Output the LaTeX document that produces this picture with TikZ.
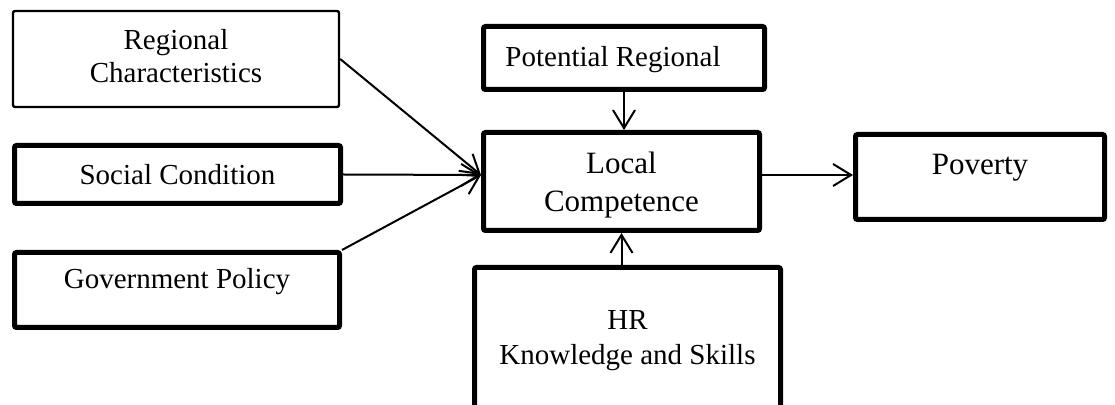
\documentclass[tikz,border=0pt]{standalone}
\usepackage{fontspec}
\setmainfont{Liberation Serif}
\usetikzlibrary{arrows.meta,calc}
\tikzset{
  box/.style={draw,line width=2.5pt,rounded corners=1pt,align=center,inner sep=0pt,
    text height=10pt,font=\fontsize{14.5}{16.5}\selectfont},
  thinbox/.style={box,line width=1.2pt},
  bigbox/.style={box,text height=11pt,font=\fontsize{15.5}{19}\selectfont},
  link/.style={line width=1pt,-{Straight Barb[length=9pt,width=11pt]}}
}

\begin{document}
\begin{tikzpicture}[x=0.5pt,y=-0.5pt]
                \useasboundingbox (0,0) rectangle (1115,405);
                \clip (0,0) rectangle (1115,405);
                \node[thinbox,minimum width=163pt,minimum height=48pt,text height=26.5pt,text depth=2.5pt](reg)at(176,59){Regional\\Characteristics};
                \node[box,minimum width=163pt,minimum height=29pt,text depth=0pt](soc)at(177.5,174.5){Social Condition};
                \node[box,minimum width=162.5pt,minimum height=37.5pt,text depth=11pt](gov)at(177,290){Government Policy};
                \node[box,minimum width=140.5pt,minimum height=31.5pt,text depth=1pt](pot)at(624,58){Potential Regional\hspace*{11pt}};
                \node[bigbox,minimum width=138pt,minimum height=49pt,text height=30pt,text depth=0pt](loc)at(621.5,181.5){Local\\Competence};
                \node[bigbox,minimum width=124.5pt,minimum height=42.5pt,text depth=13pt](pov)at(980,177){Poverty};
                \node[box,minimum width=153pt,minimum height=73pt,text height=27.5pt,text depth=3pt,
                  font=\fontsize{14.5}{17.5}\selectfont](hr)at(627.5,340.5){HR\\Knowledge and Skills};
                \coordinate(hub)at($(loc.west)+(0,-6.5)$);
                \coordinate(out)at($(loc.east)+(0,-6.5)$);
                \draw[link](reg.east)--(hub);
                \draw[link](soc.east)--(hub);
                \draw[link](gov.north east)--(hub);
                \draw[link](pot.south)--(pot.south|-loc.north);
                \draw[link](loc.south|-hr.north)--(loc.south);
                \draw[link](out)--(out-|pov.west);
            \end{tikzpicture}
\end{document}
